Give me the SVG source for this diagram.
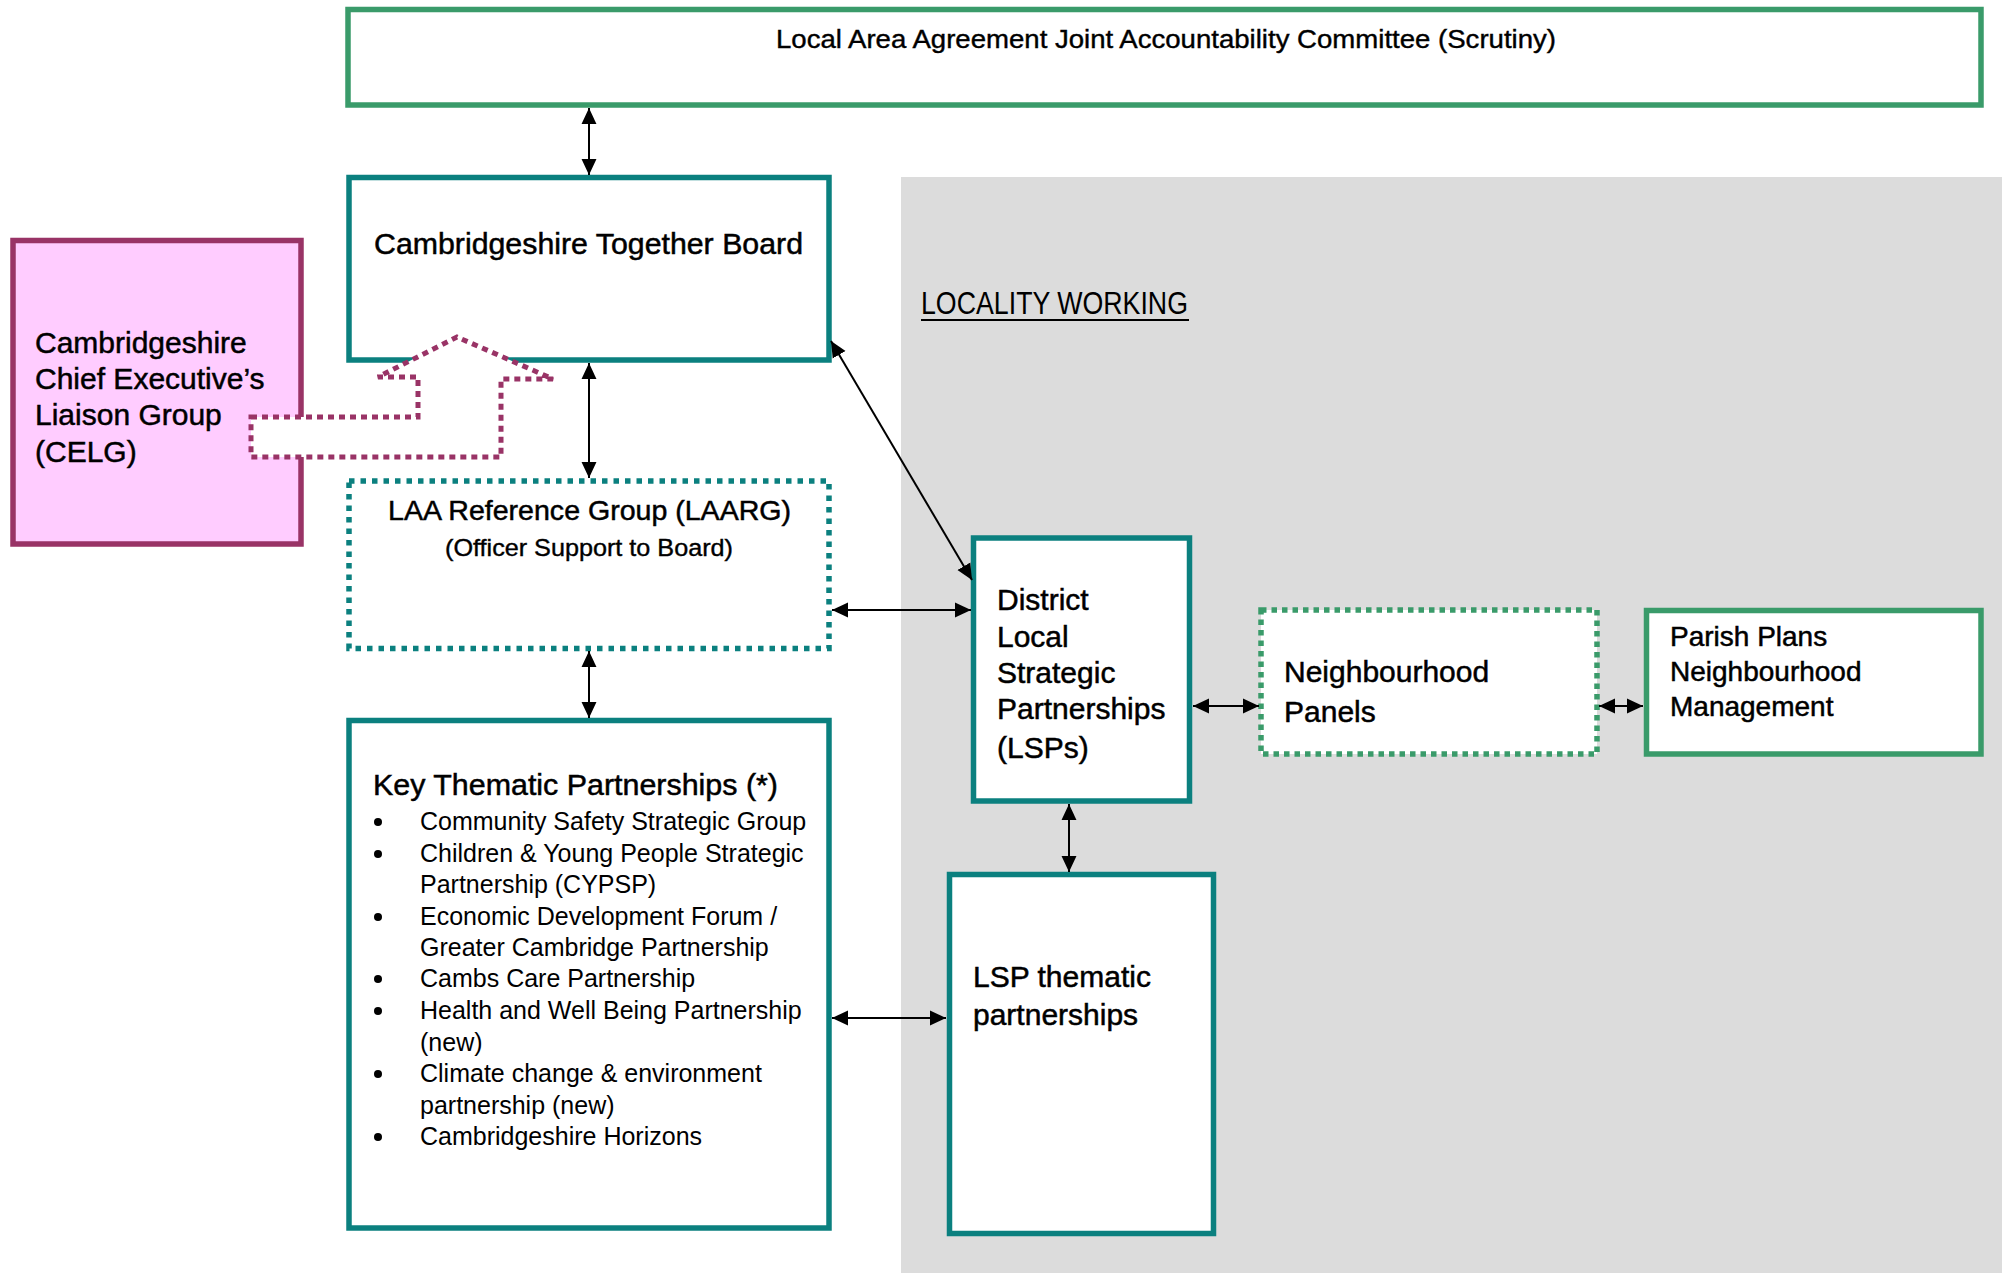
<svg xmlns="http://www.w3.org/2000/svg" width="2002" height="1273" viewBox="0 0 2002 1273">
<style>
  text { font-family: "Liberation Sans", Arial, sans-serif; fill: #000; }
  .big { font-size: 30px; stroke: #000; stroke-width: 0.5; }
  .list { font-size: 25px; }
  .teal { fill: #ffffff; stroke: #0b807f; stroke-width: 5.5; }
  .tealdot { fill: #ffffff; stroke: #0b807f; stroke-width: 5.5; stroke-dasharray: 5.5 6; }
  .green { fill: #ffffff; stroke: #3a9b6a; stroke-width: 5.5; }
  .greendot { fill: #ffffff; stroke: #3a9b6a; stroke-width: 5.5; stroke-dasharray: 5.5 5; }
  .conn line { stroke: #000; stroke-width: 2; marker-start: url(#ah); marker-end: url(#ah); }
</style>
<defs>
  <marker id="ah" markerUnits="userSpaceOnUse" markerWidth="16" markerHeight="16" viewBox="0 0 15 14" refX="15" refY="7" orient="auto-start-reverse">
    <path d="M0,0 L15,7 L0,14 Z" fill="#000"/>
  </marker>
</defs>

<rect id="locality-area" x="901" y="177" width="1101" height="1096" fill="#dcdcdc"/>

<g id="locality-label">
  <text x="921" y="314" font-size="31" textLength="267" lengthAdjust="spacingAndGlyphs">LOCALITY WORKING</text>
  <line x1="921" y1="320" x2="1189" y2="320" stroke="#000" stroke-width="2"/>
</g>

<g id="scrutiny">
  <rect class="green" x="348" y="9.5" width="1633" height="95.5"/>
  <text x="776" y="48" font-size="26" stroke="#000" stroke-width="0.4" textLength="780" lengthAdjust="spacingAndGlyphs">Local Area Agreement Joint Accountability Committee (Scrutiny)</text>
</g>

<g id="ct-board">
  <rect class="teal" x="349" y="177.5" width="480" height="182.5"/>
  <text class="big" x="374" y="254" textLength="429" lengthAdjust="spacingAndGlyphs">Cambridgeshire Together Board</text>
</g>

<g id="celg">
  <rect x="13" y="240.5" width="288" height="303.5" fill="#ffccff" stroke="#993366" stroke-width="5.5"/>
  <text class="big" x="35" y="353">Cambridgeshire</text>
  <text class="big" x="35" y="389">Chief Executive’s</text>
  <text class="big" x="35" y="425">Liaison Group</text>
  <text class="big" x="35" y="462">(CELG)</text>
</g>

<g id="laarg">
  <rect class="tealdot" x="349" y="481" width="480" height="167.5"/>
  <text x="388" y="520" font-size="28.5" stroke="#000" stroke-width="0.5" textLength="403" lengthAdjust="spacingAndGlyphs">LAA Reference Group (LAARG)</text>
  <text x="445" y="556" font-size="24.5" stroke="#000" stroke-width="0.4" textLength="288" lengthAdjust="spacingAndGlyphs">(Officer Support to Board)</text>
</g>

<g id="key-thematic">
  <rect class="teal" x="349" y="720.5" width="480" height="507.5"/>
  <text class="big" x="373" y="795" textLength="405" lengthAdjust="spacingAndGlyphs">Key Thematic Partnerships (*)</text>
  <g fill="#000">
    <circle cx="378" cy="822" r="4"/>
    <circle cx="378" cy="854" r="4"/>
    <circle cx="378" cy="917" r="4"/>
    <circle cx="378" cy="979" r="4"/>
    <circle cx="378" cy="1011" r="4"/>
    <circle cx="378" cy="1074" r="4"/>
    <circle cx="378" cy="1137" r="4"/>
  </g>
  <text class="list" x="420" y="830">Community Safety Strategic Group</text>
  <text class="list" x="420" y="862">Children &amp; Young People Strategic</text>
  <text class="list" x="420" y="893">Partnership (CYPSP)</text>
  <text class="list" x="420" y="925">Economic Development Forum /</text>
  <text class="list" x="420" y="956">Greater Cambridge Partnership</text>
  <text class="list" x="420" y="987">Cambs Care Partnership</text>
  <text class="list" x="420" y="1019">Health and Well Being Partnership</text>
  <text class="list" x="420" y="1051">(new)</text>
  <text class="list" x="420" y="1082">Climate change &amp; environment</text>
  <text class="list" x="420" y="1114">partnership (new)</text>
  <text class="list" x="420" y="1145">Cambridgeshire Horizons</text>
</g>

<g id="district-lsp">
  <rect class="teal" x="973.5" y="538" width="216" height="263"/>
  <text class="big" x="997" y="610">District</text>
  <text class="big" x="997" y="647">Local</text>
  <text class="big" x="997" y="683">Strategic</text>
  <text class="big" x="997" y="719">Partnerships</text>
  <text class="big" x="997" y="758">(LSPs)</text>
</g>

<g id="lsp-thematic">
  <rect class="teal" x="949.5" y="874.5" width="264" height="359"/>
  <text class="big" x="973" y="987">LSP thematic</text>
  <text class="big" x="973" y="1025">partnerships</text>
</g>

<g id="neighbourhood-panels">
  <rect class="greendot" x="1261" y="610" width="336" height="144"/>
  <text class="big" x="1284" y="682">Neighbourhood</text>
  <text class="big" x="1284" y="722">Panels</text>
</g>

<g id="parish-plans">
  <rect class="green" x="1646.5" y="610.5" width="334.5" height="143.5"/>
  <text x="1670" y="646" font-size="28" stroke="#000" stroke-width="0.5">Parish Plans</text>
  <text x="1670" y="681" font-size="28" stroke="#000" stroke-width="0.5">Neighbourhood</text>
  <text x="1670" y="716" font-size="28" stroke="#000" stroke-width="0.5">Management</text>
</g>

<g id="celg-arrow">
  <path d="M251,417 L418,417 L418,377 L378,377 L457,337 L553,379 L501,379 L501,457 L251,457 Z" fill="#ffffff" stroke="#993366" stroke-width="5" stroke-dasharray="6 5"/>
</g>

<g id="connectors" class="conn">
  <line x1="589" y1="108" x2="589" y2="175"/>
  <line x1="589" y1="363" x2="589" y2="478"/>
  <line x1="589" y1="651" x2="589" y2="718"/>
  <line x1="831" y1="341" x2="972" y2="580"/>
  <line x1="832" y1="610" x2="971" y2="610"/>
  <line x1="832" y1="1018" x2="946" y2="1018"/>
  <line x1="1069" y1="804" x2="1069" y2="872"/>
  <line x1="1193" y1="706" x2="1259" y2="706"/>
  <line x1="1599" y1="706" x2="1643" y2="706"/>
</g>
</svg>
